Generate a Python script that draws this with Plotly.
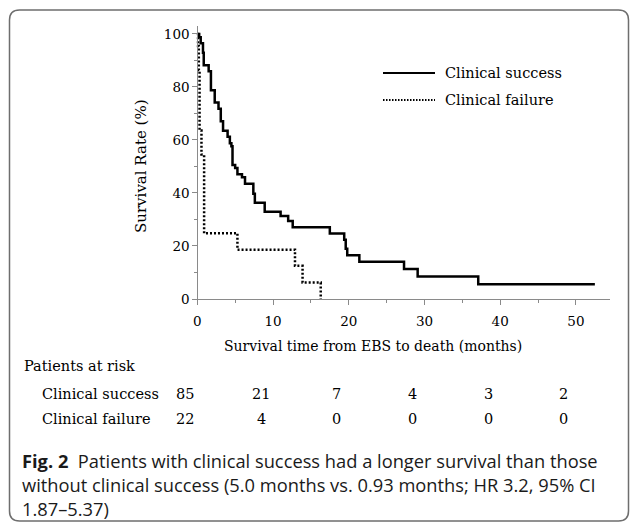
import plotly.graph_objects as go

# ---- data ----
succ_t = [0, 0.25, 0.45, 0.75, 0.85, 1.5, 1.8, 2.3, 2.8, 3.1, 3.4, 4.0, 4.3, 4.5, 4.65, 5.0, 5.3, 5.9, 6.3,
          7.4, 7.6, 8.9, 11.0, 12.0, 12.6, 17.5, 19.4, 19.6, 19.8, 21.4, 27.3, 29.1, 37.1, 52.5]
succ_s = [100, 98.8, 96.5, 92.9, 88.2, 85.9, 78.8, 74.1, 71.8, 67.1, 63.5, 61.2, 58.8, 57.6, 50.6, 49.4, 47.1, 45.9, 43.5,
          39.7, 36.3, 32.9, 31.3, 29.4, 27.1, 24.7, 22.4, 19.0, 16.5, 14.1, 11.3, 8.5, 5.6, 5.6]
fail_t = [0, 0.1, 0.2, 0.3, 0.55, 0.9, 5.3, 12.9, 13.9, 16.3]
fail_s = [100, 95.5, 86.4, 63.6, 54.5, 24.8, 18.6, 12.5, 6.2, 0]

risk_times = [0, 10, 20, 30, 40, 50]
risk_success = [85, 21, 7, 4, 3, 2]
risk_failure = [22, 4, 0, 0, 0, 0]

x_ticks = [0, 10, 20, 30, 40, 50]
y_ticks = [0, 20, 40, 60, 80, 100]

# ---- layout geometry ----
W, H = 630, 523
L, R, T, B = 192, 20, 26, 224
PW, PH = W - L - R, H - T - B
XR = [-0.7, 54.5]


def px(x):
    return (x - L) / PW


def py(y):
    return (H - B - y) / PH


def xdata_to_px(t):
    return L + (t - XR[0]) / (XR[1] - XR[0]) * PW


SERIF = "DejaVu Serif"

fig = go.Figure()
fig.add_trace(go.Scatter(x=succ_t, y=succ_s, mode="lines", line_shape="hv",
                         line=dict(color="black", width=2.5), name="Clinical success",
                         showlegend=False, hoverinfo="skip"))
fig.add_trace(go.Scatter(x=fail_t, y=fail_s, mode="lines", line_shape="hv",
                         line=dict(color="black", width=2.5, dash="2px,2px"), name="Clinical failure",
                         showlegend=False, hoverinfo="skip"))

shapes = []
# legend samples
shapes.append(dict(type="line", xref="paper", yref="paper", x0=px(383), x1=px(435), y0=py(73), y1=py(73),
                   line=dict(color="black", width=2)))
shapes.append(dict(type="line", xref="paper", yref="paper", x0=px(383), x1=px(435), y0=py(100), y1=py(100),
                   line=dict(color="black", width=2, dash="1.5px,1.5px")))
# rounded frame
x0, y0, x1, y1, r = 9.5, 10, 628.5, 521, 10
path = (f"M {px(x0)},{py(y0 + r)} Q {px(x0)},{py(y0)} {px(x0 + r)},{py(y0)} "
        f"L {px(x1 - r)},{py(y0)} Q {px(x1)},{py(y0)} {px(x1)},{py(y0 + r)} "
        f"L {px(x1)},{py(y1 - r)} Q {px(x1)},{py(y1)} {px(x1 - r)},{py(y1)} "
        f"L {px(x0 + r)},{py(y1)} Q {px(x0)},{py(y1)} {px(x0)},{py(y1 - r)} Z")
shapes.append(dict(type="path", xref="paper", yref="paper", path=path,
                   line=dict(color="#6e6e6e", width=1.5)))

ann = []
tf = dict(family=SERIF, size=14.5, color="black")
af = dict(family=SERIF, size=14, color="black")
yf = dict(family=SERIF, size=15, color="black")
kf = dict(family=SERIF, size=13.5, color="black")
ann.append(dict(text="Clinical success", x=px(443), y=py(73), xref="paper", yref="paper",
                xanchor="left", yanchor="middle", showarrow=False, font=tf))
ann.append(dict(text="Clinical failure", x=px(443), y=py(100), xref="paper", yref="paper",
                xanchor="left", yanchor="middle", showarrow=False, font=tf))
# axis titles
ann.append(dict(text="Survival Rate (%)", x=px(141), y=py(166), xref="paper", yref="paper",
                xanchor="center", yanchor="middle", textangle=-90, showarrow=False, font=yf))
ann.append(dict(text="Survival time from EBS to death (months)", x=px(373), y=py(346), xref="paper",
                yref="paper", xanchor="center", yanchor="middle", showarrow=False, font=af))
# risk table
ann.append(dict(text="Patients at risk", x=px(22), y=py(366), xref="paper", yref="paper",
                xanchor="left", yanchor="middle", showarrow=False, font=tf))
ann.append(dict(text="Clinical success", x=px(40), y=py(394), xref="paper", yref="paper",
                xanchor="left", yanchor="middle", showarrow=False, font=tf))
ann.append(dict(text="Clinical failure", x=px(40), y=py(419), xref="paper", yref="paper",
                xanchor="left", yanchor="middle", showarrow=False, font=tf))
for t, a, b in zip(risk_times, risk_success, risk_failure):
    ann.append(dict(text=str(a), x=t, y=py(394), xref="x", yref="paper", xanchor="center", xshift=-12,
                    yanchor="middle", showarrow=False, font=tf))
    ann.append(dict(text=str(b), x=t, y=py(419), xref="x", yref="paper", xanchor="center", xshift=-12,
                    yanchor="middle", showarrow=False, font=tf))
# caption
cf = dict(family="Open Sans", size=18.3, color="#1a1a1a")
cap = ["<b>Fig. 2</b>  Patients with clinical success had a longer survival than those",
       "without clinical success (5.0 months vs. 0.93 months; HR 3.2, 95% CI",
       "1.87–5.37)"]
for i, line in enumerate(cap):
    ann.append(dict(text=line, x=px(20), y=py(460 + 24 * i), xref="paper", yref="paper",
                    xanchor="left", yanchor="middle", showarrow=False, font=cf))

fig.update_layout(
    width=W, height=H, margin=dict(l=L, r=R, t=T, b=B),
    paper_bgcolor="white", plot_bgcolor="white",
    shapes=shapes, annotations=ann, showlegend=False,
    xaxis=dict(range=XR, tickvals=x_ticks, ticks="outside", ticklen=5, tickwidth=1, tickcolor="#8a8a8a",
               showline=True, linecolor="#8a8a8a", linewidth=1, showgrid=False, zeroline=False,
               ticklabelstandoff=5,
               tickfont=kf, minor=dict(dtick=5, tick0=0, ticks="outside", ticklen=3, tickcolor="#8a8a8a")),
    yaxis=dict(range=[0, 103], tickvals=y_ticks, ticks="outside", ticklen=5, tickwidth=1, tickcolor="#8a8a8a",
               showline=True, linecolor="#8a8a8a", linewidth=1, showgrid=False, zeroline=False,
               anchor="free", position=(xdata_to_px(0) - L) / PW,
               tickfont=kf, minor=dict(dtick=10, tick0=0, ticks="outside", ticklen=3, tickcolor="#8a8a8a")),
)

fig.write_html("out.html", config={"displayModeBar": False},
               post_script="document.body.style.margin='0px';document.body.style.overflow='hidden';")
